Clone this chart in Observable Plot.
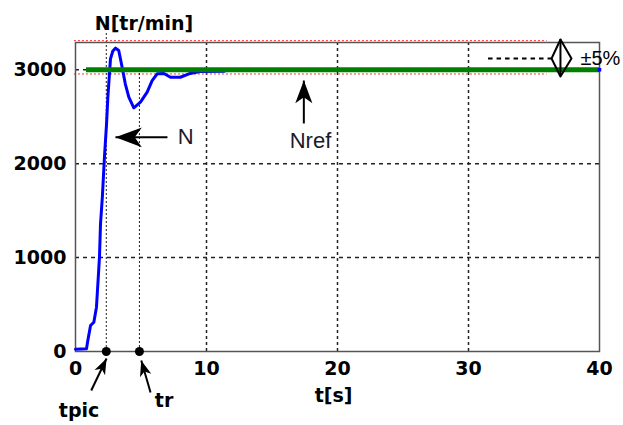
<!DOCTYPE html>
<html><head><meta charset="utf-8">
<script src="https://cdn.jsdelivr.net/npm/d3@7"></script>
<script src="https://cdn.jsdelivr.net/npm/@observablehq/plot@0.6"></script>
<style>body{margin:0;background:#fff} svg{display:block}</style>
</head><body><div id="chart"></div>
<script>
// Speed response N(t) [tr/min]
const tValues = [0, 0.84, 0.94, 1.15, 1.4, 1.6, 1.7, 1.83, 1.91, 2.05, 2.21, 2.37, 2.47, 2.67, 2.85, 3.06, 3.3, 3.56, 3.8, 4.07, 4.45, 4.96, 5.47, 5.85, 6.24, 6.75, 7.25, 8.0, 8.66, 9.5, 11.37];
const nValues = [25, 29, 117, 277, 312, 472, 703, 1004, 1360, 1643, 2069, 2424, 2708, 3116, 3200, 3230, 3205, 3027, 2850, 2708, 2595, 2655, 2761, 2885, 2957, 2960, 2920, 2920, 2957, 2982, 2985];
const nRef = 3000;
const nRefStart = 0.84;
const bandUpper = 3310;
const bandLower = 2955;
const tPic = 2.35;
const tR = 4.88;
const xTicks = [0, 10, 20, 30, 40];
const yTicks = [0, 1000, 2000, 3000];
const gridX = [10, 20, 30];
const gridY = [1000, 2000, 3000];

const curve = tValues.map((t, i) => ({t, n: nValues[i]}));

// notched filled arrowhead, tip at origin, pointing up
const arrowHead = {
  draw(ctx, size) {
    const r = Math.sqrt(size / Math.PI);
    const L = 2.4 * r, W = 1.8 * r, K = 1.75 * r;
    ctx.moveTo(0, 0);
    ctx.lineTo(-W / 2, L);
    ctx.lineTo(0, K);
    ctx.lineTo(W / 2, L);
    ctx.closePath();
  }
};

const boldFont = "DejaVu Sans";
const regFont = "Liberation Sans";

const arrows = [
  {x1: 7.02, y1: 2280, x2: 3.05, y2: 2280, rot: -90, r: 11},
  {x1: 17.43, y1: 2428, x2: 17.43, y2: 2885, rot: 0, r: 9.5},
  {x1: 1.2, y1: -415, x2: 2.37, y2: -75, rot: 25.8, r: 6.5},
  {x1: 5.73, y1: -437, x2: 5.02, y2: -96, rot: -16.2, r: 6.5}
];
const heads = arrows.map(a => Plot.dot([a], {x: "x2", y: "y2", r: a.r, rotate: a.rot, symbol: arrowHead, fill: "#000", stroke: "none"}));

const diamond = [
  {x: 37.02, y: 3322}, {x: 36.34, y: 3120}, {x: 37.02, y: 2928}, {x: 37.86, y: 3120}, {x: 37.02, y: 3322}
];

const chart = Plot.plot({
  width: 623,
  height: 425,
  marginLeft: 75,
  marginRight: 24,
  marginTop: 42,
  marginBottom: 74,
  style: {fontFamily: boldFont, background: "#fff", overflow: "visible"},
  x: {domain: [0, 40]},
  y: {domain: [0, 3290]},
  marks: [
    Plot.ruleX(gridX, {stroke: "#222", strokeWidth: 1.5, strokeDasharray: "3,3"}),
    Plot.ruleY(gridY, {stroke: "#222", strokeWidth: 1.5, strokeDasharray: "4,4"}),
    Plot.ruleY([bandUpper, bandLower], {x1: -0.08, x2: 36.0, stroke: "#ff3030", strokeWidth: 1, strokeDasharray: "2,2"}),
    Plot.ruleX([tPic], {y1: 0, y2: 3386, stroke: "#222", strokeWidth: 1, strokeDasharray: "2,2"}),
    Plot.ruleX([tR], {y1: 0, y2: 3024, stroke: "#222", strokeWidth: 1, strokeDasharray: "2,2"}),
    Plot.frame({stroke: "#555", strokeWidth: 1.5}),
    Plot.axisX(xTicks, {tickSize: 0, tickPadding: 10, label: null, tickFormat: d3.format("d"), fontSize: 19, fontWeight: "bold", fontFamily: boldFont, fill: "#000"}),
    Plot.axisY(yTicks, {tickSize: 0, tickPadding: 9, label: null, tickFormat: d3.format("d"), fontSize: 19, fontWeight: "bold", fontFamily: boldFont, fill: "#000"}),
    Plot.line(curve, {x: "t", y: "n", stroke: "#0000ff", strokeWidth: 3}),
    Plot.ruleY([nRef], {x1: nRefStart, x2: 40, stroke: "#008000", strokeWidth: 5}),
    Plot.dot([{x: 40, y: nRef}], {x: "x", y: "y", symbol: "square", r: 2, fill: "#0000ff"}),
    Plot.dot([tPic, tR], {x: d => d, y: () => 0, r: 4.5, fill: "#000"}),
    Plot.link(arrows, {x1: "x1", y1: "y1", x2: "x2", y2: "y2", stroke: "#000", strokeWidth: 2}),
    ...heads,
    Plot.ruleY([3120], {x1: 31.53, x2: 36.34, stroke: "#000", strokeWidth: 2, strokeDasharray: "4.5,4"}),
    Plot.line(diamond, {x: "x", y: "y", stroke: "#000", strokeWidth: 2}),
    Plot.ruleX([37.02], {y1: 2928, y2: 3322, stroke: "#000", strokeWidth: 2}),
    Plot.text([{x: 5.23, y: 3492, s: "N[tr/min]"}], {x: "x", y: "y", text: "s", fontFamily: boldFont, fontWeight: "bold", fontSize: 19, fill: "#000"}),
    Plot.text([{x: 19.7, y: -468, s: "t[s]"}], {x: "x", y: "y", text: "s", fontFamily: boldFont, fontWeight: "bold", fontSize: 19, fill: "#000"}),
    Plot.text([{x: 0.27, y: -628, s: "tpic"}, {x: 6.76, y: -522, s: "tr"}], {x: "x", y: "y", text: "s", fontFamily: boldFont, fontWeight: "bold", fontSize: 19, fill: "#000"}),
    Plot.text([{x: 7.8, y: 2280, s: "N"}], {x: "x", y: "y", text: "s", textAnchor: "start", fontFamily: regFont, fontSize: 22, fill: "#1a1a2a"}),
    Plot.text([{x: 17.94, y: 2247, s: "Nref"}], {x: "x", y: "y", text: "s", fontFamily: regFont, fontSize: 22, fill: "#1a1a2a"}),
    Plot.text([{x: 38.55, y: 3120, s: "±5%"}], {x: "x", y: "y", text: "s", textAnchor: "start", fontFamily: regFont, fontSize: 20, fill: "#000"})
  ]
});
document.getElementById("chart").appendChild(chart);
</script>
</body></html>
